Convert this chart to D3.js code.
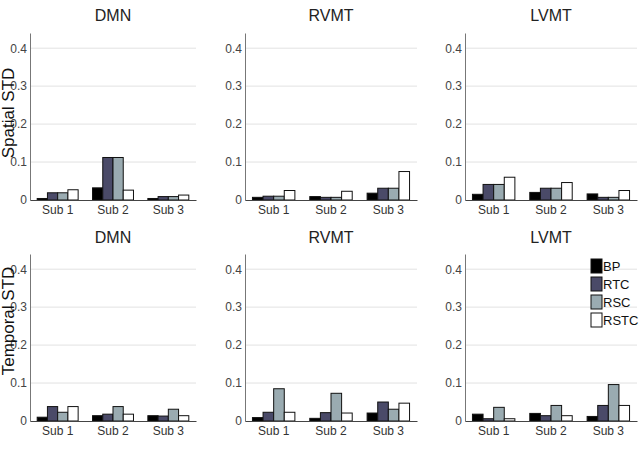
<!DOCTYPE html>
<html lang="en">
<head>
  <meta charset="UTF-8">
  <title>Spatial and temporal STD</title>
  <script src="https://d3js.org/d3.v7.min.js"></script>
  <style>
    body { margin: 0; background: #fff; }
    text { font-family: "Liberation Sans", Arial, sans-serif; }
  </style>
</head>
<body>

<div id="chart"></div>

<script>
  // categories
  const networks = ["DMN", "RVMT", "LVMT"];
  const subjects = ["Sub 1", "Sub 2", "Sub 3"];
  const methods = ["BP", "RTC", "RSC", "RSTC"];
  const rowLabels = ["Spatial STD", "Temporal STD"];
  const yTicks = [0, 0.1, 0.2, 0.3, 0.4];

  // values, one row per subject: [BP, RTC, RSC, RSTC]
  const spatialDMN  = [[0.004, 0.019, 0.019, 0.027], [0.032, 0.112, 0.112, 0.026], [0.004, 0.009, 0.009, 0.013]];
  const spatialRVMT = [[0.007, 0.010, 0.010, 0.025], [0.009, 0.007, 0.007, 0.023], [0.018, 0.031, 0.031, 0.075]];
  const spatialLVMT = [[0.015, 0.041, 0.041, 0.060], [0.020, 0.031, 0.031, 0.046], [0.016, 0.007, 0.007, 0.025]];
  const temporalDMN  = [[0.010, 0.038, 0.023, 0.038], [0.014, 0.018, 0.038, 0.018], [0.014, 0.013, 0.031, 0.014]];
  const temporalRVMT = [[0.009, 0.023, 0.085, 0.023], [0.007, 0.022, 0.073, 0.021], [0.021, 0.050, 0.031, 0.047]];
  const temporalLVMT = [[0.018, 0.006, 0.036, 0.006], [0.020, 0.014, 0.041, 0.014], [0.012, 0.041, 0.096, 0.041]];

  const panels = [
    [spatialDMN, spatialRVMT, spatialLVMT],
    [temporalDMN, temporalRVMT, temporalLVMT]
  ];

  const width = 643, height = 452;
  const colors = ["#000000", "#4a4a68", "#9aabb1", "#ffffff"];

  // layout of the 2x3 grid
  const colX = [30, 245, 465];
  const colW = [166, 172, 172];
  const rowBase = [200, 421];
  const rowTop = [33, 254];
  const titleY = [21, 243];

  const svg = d3.select("#chart").append("svg")
    .attr("width", width)
    .attr("height", height);

  const color = d3.scaleOrdinal().domain(methods).range(colors);

  panels.forEach((row, r) => {
    row.forEach((vals, c) => {
      const x = d3.scaleBand().domain(subjects)
        .range([colX[c], colX[c] + colW[c]])
        .paddingInner(0.26).paddingOuter(0.13);
      const xm = d3.scaleBand().domain(methods).range([0, x.bandwidth()]);
      const y = d3.scaleLinear().domain([0, 0.44]).range([rowBase[r], rowTop[r]]);

      const g = svg.append("g");

      // gridlines
      g.selectAll(".grid").data(yTicks.slice(1)).join("line")
        .attr("x1", colX[c]).attr("x2", colX[c] + colW[c])
        .attr("y1", d => y(d)).attr("y2", d => y(d))
        .attr("stroke", "#e2e2e2").attr("stroke-width", 1);

      // y axis
      const ya = g.append("g")
        .attr("transform", `translate(${colX[c]},0)`)
        .call(d3.axisLeft(y).tickValues(yTicks).tickSize(0).tickPadding(3)
          .tickFormat(d => d === 0 ? "0" : d.toFixed(1)));
      ya.select(".domain").attr("stroke", "#777");
      ya.selectAll("text").attr("font-size", 12).attr("fill", "#444")
        .attr("font-family", "'Liberation Sans Narrow', 'Liberation Sans', sans-serif");

      // bars
      const groups = g.selectAll(".sub").data(vals).join("g")
        .attr("transform", (d, i) => `translate(${x(subjects[i])},0)`);
      groups.selectAll("rect").data(d => d.map((v, k) => ({ m: methods[k], v })))
        .join("rect")
        .attr("x", d => xm(d.m))
        .attr("width", xm.bandwidth())
        .attr("y", d => y(d.v))
        .attr("height", d => y(0) - y(d.v))
        .attr("fill", d => color(d.m))
        .attr("stroke", "#111")
        .attr("stroke-width", 1);

      // x axis
      const xa = g.append("g")
        .attr("transform", `translate(0,${rowBase[r]})`)
        .call(d3.axisBottom(x).tickSize(0).tickPadding(5));
      xa.select(".domain").attr("stroke", "#444").attr("stroke-width", 1.2);
      xa.selectAll("text").attr("font-size", 12).attr("fill", "#333")
        .attr("font-family", "'Liberation Sans Narrow', 'Liberation Sans', sans-serif");

      // title
      svg.append("text")
        .attr("x", colX[c] + colW[c] / 2)
        .attr("y", titleY[r])
        .attr("text-anchor", "middle")
        .attr("font-size", 16)
        .attr("fill", "#222")
        .text(networks[c]);
    });

    // row label
    svg.append("text")
      .attr("transform", `translate(14,${r === 0 ? 113 : 321}) rotate(-90)`)
      .attr("text-anchor", "middle")
      .attr("font-size", 17)
      .attr("fill", "#111")
      .text(rowLabels[r]);
  });

  // legend
  const legend = svg.append("g").attr("transform", "translate(591,259)");
  const items = legend.selectAll("g").data(methods).join("g")
    .attr("transform", (d, i) => `translate(0,${i * 18})`);
  items.append("rect")
    .attr("width", 11).attr("height", 14)
    .attr("fill", d => color(d))
    .attr("stroke", "#111");
  items.append("text")
    .attr("x", 12).attr("y", 12)
    .attr("font-size", 13)
    .attr("font-family", "'Liberation Sans Narrow', 'Liberation Sans', sans-serif")
    .attr("fill", "#111")
    .text(d => d);
</script>

</body>
</html>
